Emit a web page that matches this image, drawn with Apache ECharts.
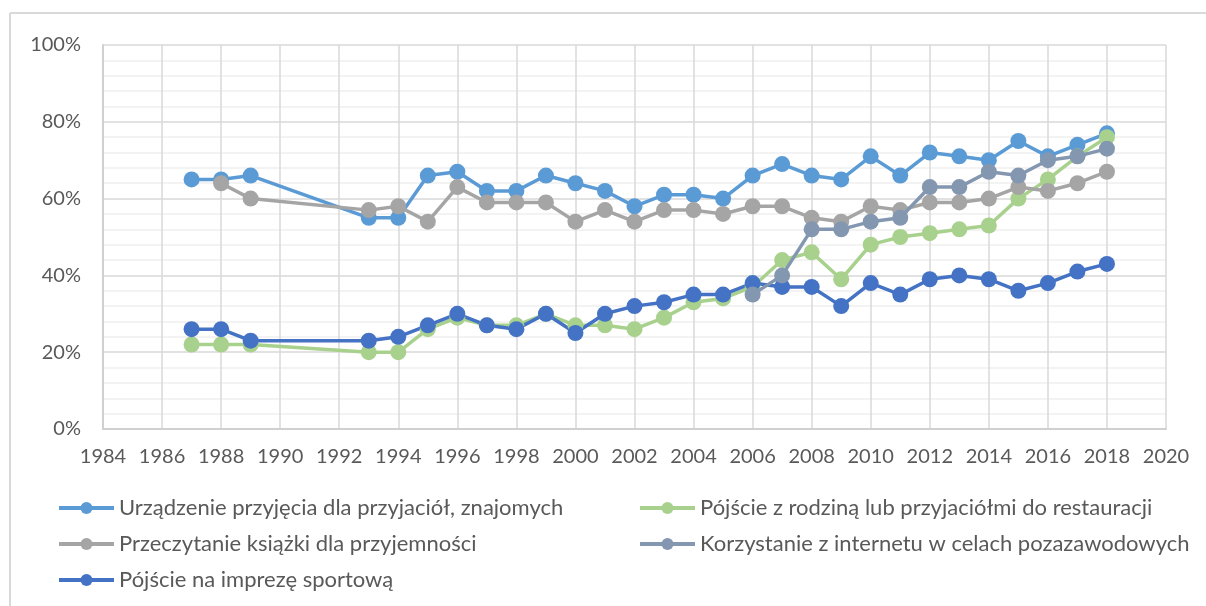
<!DOCTYPE html>
<html>
<head>
<meta charset="utf-8">
<script src="https://cdn.jsdelivr.net/npm/echarts@6/dist/echarts.min.js"></script>
<style>
  html, body { margin: 0; padding: 0; background: #fff; }
  #chart { width: 1206px; height: 606px; }
</style>
</head>
<body>
<div id="chart"></div>
<script>
// lata badań
const yearsAll = [1987, 1988, 1989, 1993, 1994, 1995, 1996, 1997, 1998, 1999, 2000, 2001, 2002, 2003, 2004, 2005, 2006, 2007, 2008, 2009, 2010, 2011, 2012, 2013, 2014, 2015, 2016, 2017, 2018]
const yearsBooks = yearsAll.slice(1)
const yearsNet = [2006, 2007, 2008, 2009, 2010, 2011, 2012, 2013, 2014, 2015, 2016, 2017, 2018]

const seriesNames = [
  'Urządzenie przyjęcia dla przyjaciół, znajomych',
  'Pójście z rodziną lub przyjaciółmi do restauracji',
  'Przeczytanie książki dla przyjemności',
  'Korzystanie z internetu w celach pozazawodowych',
  'Pójście na imprezę sportową'
]

// wartości w %
const party = [65, 65, 66, 55, 55, 66, 67, 62, 62, 66, 64, 62, 58, 61, 61, 60, 66, 69, 66, 65, 71, 66, 72, 71, 70, 75, 71, 74, 77]
const restaurant = [22, 22, 22, 20, 20, 26, 29, 27, 27, 30, 27, 27, 26, 29, 33, 34, 37, 44, 46, 39, 48, 50, 51, 52, 53, 60, 65, 71, 76]
const books = [64, 60, 57, 58, 54, 63, 59, 59, 59, 54, 57, 54, 57, 57, 56, 58, 58, 55, 54, 58, 57, 59, 59, 60, 63, 62, 64, 67]
const internet = [35, 40, 52, 52, 54, 55, 63, 63, 67, 66, 70, 71, 73]
const sport = [26, 26, 23, 23, 24, 27, 30, 27, 26, 30, 25, 30, 32, 33, 35, 35, 38, 37, 37, 32, 38, 35, 39, 40, 39, 36, 38, 41, 43]

const colors = ['#5B9BD5', '#A9D18E', '#A5A5A5', '#8497B0', '#4472C4']
const font = 'Lato, "Open Sans", sans-serif'

function pairs (xs, ys) {
  return xs.map((x, i) => [x, ys[i]])
}

const seriesData = [
  pairs(yearsAll, party),
  pairs(yearsAll, restaurant),
  pairs(yearsBooks, books),
  pairs(yearsNet, internet),
  pairs(yearsAll, sport)
]

let myChart = echarts.init(document.getElementById('chart'), null, { renderer: 'canvas' })

const legendBase = {
  orient: 'vertical',
  top: 497,
  padding: 0,
  itemWidth: 55,
  itemHeight: 15,
  itemGap: 14,
  lineStyle: { width: 4 },
  textStyle: { color: '#595959', fontSize: 22, fontFamily: font, padding: [0, 0, 0, 0] }
}

let option = {
  backgroundColor: '#fff',
  color: colors,
  animation: false,
  grid: { left: 103, right: 40, top: 45, bottom: 177 },
  // ramka wykresu (góra i lewa krawędź)
  graphic: [
    { type: 'line', shape: { x1: 10, y1: 13, x2: 1206, y2: 13 }, style: { stroke: '#d9d9d9', lineWidth: 2 } },
    { type: 'line', shape: { x1: 10, y1: 13, x2: 10, y2: 606 }, style: { stroke: '#d9d9d9', lineWidth: 2 } }
  ],
  legend: [
    Object.assign({}, legendBase, { left: 57, data: [seriesNames[0], seriesNames[2], seriesNames[4]] }),
    Object.assign({}, legendBase, { left: 638, data: [seriesNames[1], seriesNames[3]] })
  ],
  xAxis: {
    type: 'value',
    min: 1984,
    max: 2020,
    interval: 2,
    axisLine: { show: true, lineStyle: { color: '#d0d0d0', width: 2 } },
    axisTick: { show: false },
    axisLabel: { color: '#595959', fontSize: 20, fontFamily: font, margin: 18, formatter: v => String(v) },
    splitLine: { show: true, lineStyle: { color: '#d9d9d9', width: 1.5 } }
  },
  yAxis: {
    type: 'value',
    min: 0,
    max: 100,
    interval: 20,
    axisLine: { show: true, lineStyle: { color: '#d0d0d0', width: 2 } },
    axisTick: { show: false },
    axisLabel: { color: '#595959', fontSize: 20, fontFamily: font, margin: 22, formatter: '{value}%' },
    splitLine: { show: true, lineStyle: { color: '#d9d9d9', width: 1.5 } },
    minorTick: { show: false, splitNumber: 5 },
    minorSplitLine: { show: true, lineStyle: { color: '#f0f0f0', width: 1.5 } }
  },
  series: seriesData.map((d, i) => ({
    name: seriesNames[i],
    type: 'line',
    data: d,
    symbol: 'circle',
    symbolSize: 16,
    lineStyle: { width: 3.5 },
    z: i === 3 ? 3 : 2
  }))
}

myChart.setOption(option)
</script>
</body>
</html>
